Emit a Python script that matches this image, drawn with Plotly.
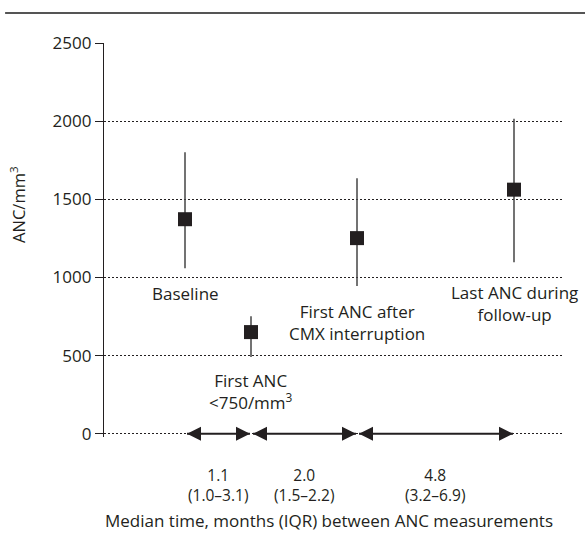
import plotly.graph_objects as go

# ---- data ----
categories = ["Baseline", "First ANC<br>&lt;750/mm<sup>3</sup>",
              "First ANC after<br>CMX interruption", "Last ANC during<br>follow-up"]
x_positions = [81, 147, 253, 410]          # position along the timeline axis
anc_median = [1373, 651, 1252, 1562]
anc_q1 = [1060, 492, 945, 1098]
anc_q3 = [1801, 753, 1635, 2015]
interval_median = ["1.1", "2.0", "4.8"]
interval_iqr = ["(1.0–3.1)", "(1.5–2.2)", "(3.2–6.9)"]
y_ticks = [0, 500, 1000, 1500, 2000, 2500]

FONT = "Open Sans"
TXT = "#231f20"

fig = go.Figure()

# double arrows between consecutive measurements (drawn on the 0 line)
for i in range(len(x_positions) - 1):
    fig.add_trace(go.Scatter(
        x=[x_positions[i] + 2, x_positions[i + 1] - 1], y=[0, 0],
        mode="lines+markers",
        line=dict(color="#231f20", width=2),
        marker=dict(symbol=["arrow-left", "arrow-right"], size=14, color="#231f20",
                    line=dict(width=0)),
        showlegend=False, hoverinfo="skip", cliponaxis=False,
    ))

fig.add_trace(go.Scatter(
    x=x_positions, y=anc_median, mode="markers",
    marker=dict(symbol="square", size=14, color="#231f20", line=dict(width=0)),
    error_y=dict(type="data", symmetric=False,
                 array=[h - m for h, m in zip(anc_q3, anc_median)],
                 arrayminus=[m - l for m, l in zip(anc_median, anc_q1)],
                 color="#444444", thickness=1.5, width=0),
    showlegend=False, hoverinfo="skip", cliponaxis=False,
))

annotations = []
# category labels
label_y = [895, 268, 712, 837]
for xp, lab, ly in zip(x_positions, categories, label_y):
    annotations.append(dict(x=xp, y=ly, xref="x", yref="y", text=lab, showarrow=False,
                            yanchor="middle", xanchor="center",
                            font=dict(family=FONT, size=17, color=TXT)))
for i in range(len(x_positions) - 1):
    mid = (x_positions[i] + x_positions[i + 1]) / 2
    annotations.append(dict(x=mid, y=-0.1206, xref="x", yref="paper",
                            text=f"{interval_median[i]}<br>{interval_iqr[i]}",
                            showarrow=False, yanchor="middle", xanchor="center",
                            font=dict(family=FONT, size=15.5, color=TXT)))
# axis titles
annotations.append(dict(x=0.489, y=-0.2107, xref="paper", yref="paper",
                        text="Median time, months (IQR) between ANC measurements",
                        showarrow=False, xanchor="center", yanchor="middle",
                        font=dict(family=FONT, size=17, color=TXT)))
annotations.append(dict(x=-0.187, y=0.589, xref="paper", yref="paper",
                        text="ANC/mm<sup>3</sup>", textangle=-90,
                        showarrow=False, xanchor="center", yanchor="middle",
                        font=dict(family=FONT, size=16.5, color=TXT)))

fig.update_layout(
    width=585, height=542,
    margin=dict(l=104, r=21, t=43, b=105),
    paper_bgcolor="white", plot_bgcolor="white",
    annotations=annotations,
    shapes=[dict(type="line", xref="paper", yref="paper",
                 x0=-0.215, x1=1.05, y0=1.076, y1=1.076,
                 line=dict(color="#555555", width=2))],
    xaxis=dict(range=[0, 460], visible=False, fixedrange=True),
    yaxis=dict(range=[-20, 2500], tickvals=y_ticks, showline=True, linecolor="#231f20",
               linewidth=1.3, ticks="outside", ticklen=8, tickcolor="#231f20",
               tickwidth=1.3, showgrid=True, gridcolor="#231f20", gridwidth=1,
               griddash="2px,2px", zeroline=False,
               tickfont=dict(family=FONT, size=17, color=TXT)),
)

fig.write_html("out.html", config={"displayModeBar": False},
               post_script="document.body.style.margin='0px';document.body.style.overflow='hidden';")
